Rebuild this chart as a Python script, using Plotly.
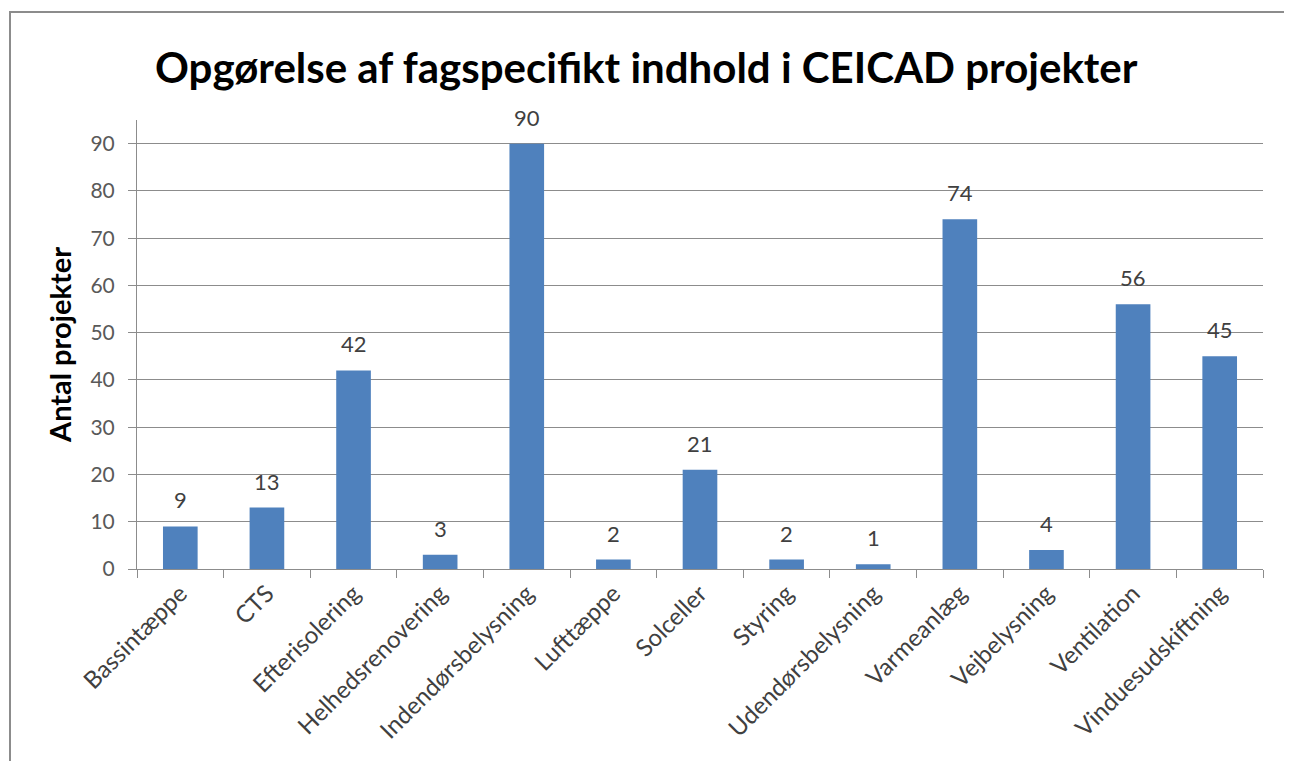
import plotly.graph_objects as go

categories = ["Bassintæppe", "CTS", "Efterisolering", "Helhedsrenovering", "Indendørsbelysning",
              "Lufttæppe", "Solceller", "Styring", "Udendørsbelysning", "Varmeanlæg",
              "Vejbelysning", "Ventilation", "Vinduesudskiftning"]
values = [9, 13, 42, 3, 90, 2, 21, 2, 1, 74, 4, 56, 45]
y_ticks = [0, 10, 20, 30, 40, 50, 60, 70, 80, 90]

FONT = "Lato, Open Sans, sans-serif"
BAR = "#4F81BD"
GRID = "#8C8C8C"
TXT = "#404040"

# page has an 8px body margin; plot area is placed at page x 137..1263, y 120..569
fig = go.Figure()
fig.add_trace(go.Bar(x=categories, y=values, marker=dict(color=BAR, line=dict(width=0)),
                     hoverinfo="x+y"))

annotations = []
for c, v in zip(categories, values):
    annotations.append(dict(x=c, y=v, xref="x", yref="y", text=str(v), showarrow=False,
                            yanchor="bottom", yshift=11,
                            font=dict(family=FONT, size=22, color=TXT)))

annotations.append(dict(text="<b>Opgørelse af fagspecifikt indhold i CEICAD projekter</b>",
                        xref="paper", yref="paper", x=(646 - 137) / 1126, y=(569 - 67) / 449,
                        xanchor="center", yanchor="middle", showarrow=False,
                        font=dict(family=FONT, size=42, color="#000000")))

fig.update_layout(
    width=1284, height=753,
    margin=dict(l=129, r=29, t=112, b=192),
    paper_bgcolor="white", plot_bgcolor="white",
    bargap=0.6,
    showlegend=False,
    annotations=annotations,
    font=dict(family=FONT, size=16, color=TXT),
    xaxis=dict(type="category", tickangle=-45, ticks="outside", tickson="boundaries",
               ticklen=8, tickcolor=GRID, showline=True, linecolor=GRID, linewidth=1,
               showgrid=False, tickfont=dict(family=FONT, size=24, color=TXT)),
    yaxis=dict(range=[0, 95], tickvals=y_ticks, ticks="outside", ticklen=8, tickcolor=GRID,
               ticklabelstandoff=9,
               showline=True, linecolor=GRID, linewidth=1, showgrid=True, gridcolor=GRID,
               gridwidth=1, zeroline=False, tickfont=dict(family=FONT, size=21, color="#595959"),
               title=dict(text="<b>Antal projekter</b>", standoff=10,
                          font=dict(family=FONT, size=29, color="#000000"))),
    shapes=[dict(type="rect", xref="paper", yref="paper",
                 x0=(10 - 137) / 1126, x1=(1290 - 137) / 1126,
                 y0=-0.6, y1=(569 - 12) / 449,
                 line=dict(color="#8C8C8C", width=2), fillcolor="rgba(0,0,0,0)", layer="below")],
)

fig.write_html("out.html")
